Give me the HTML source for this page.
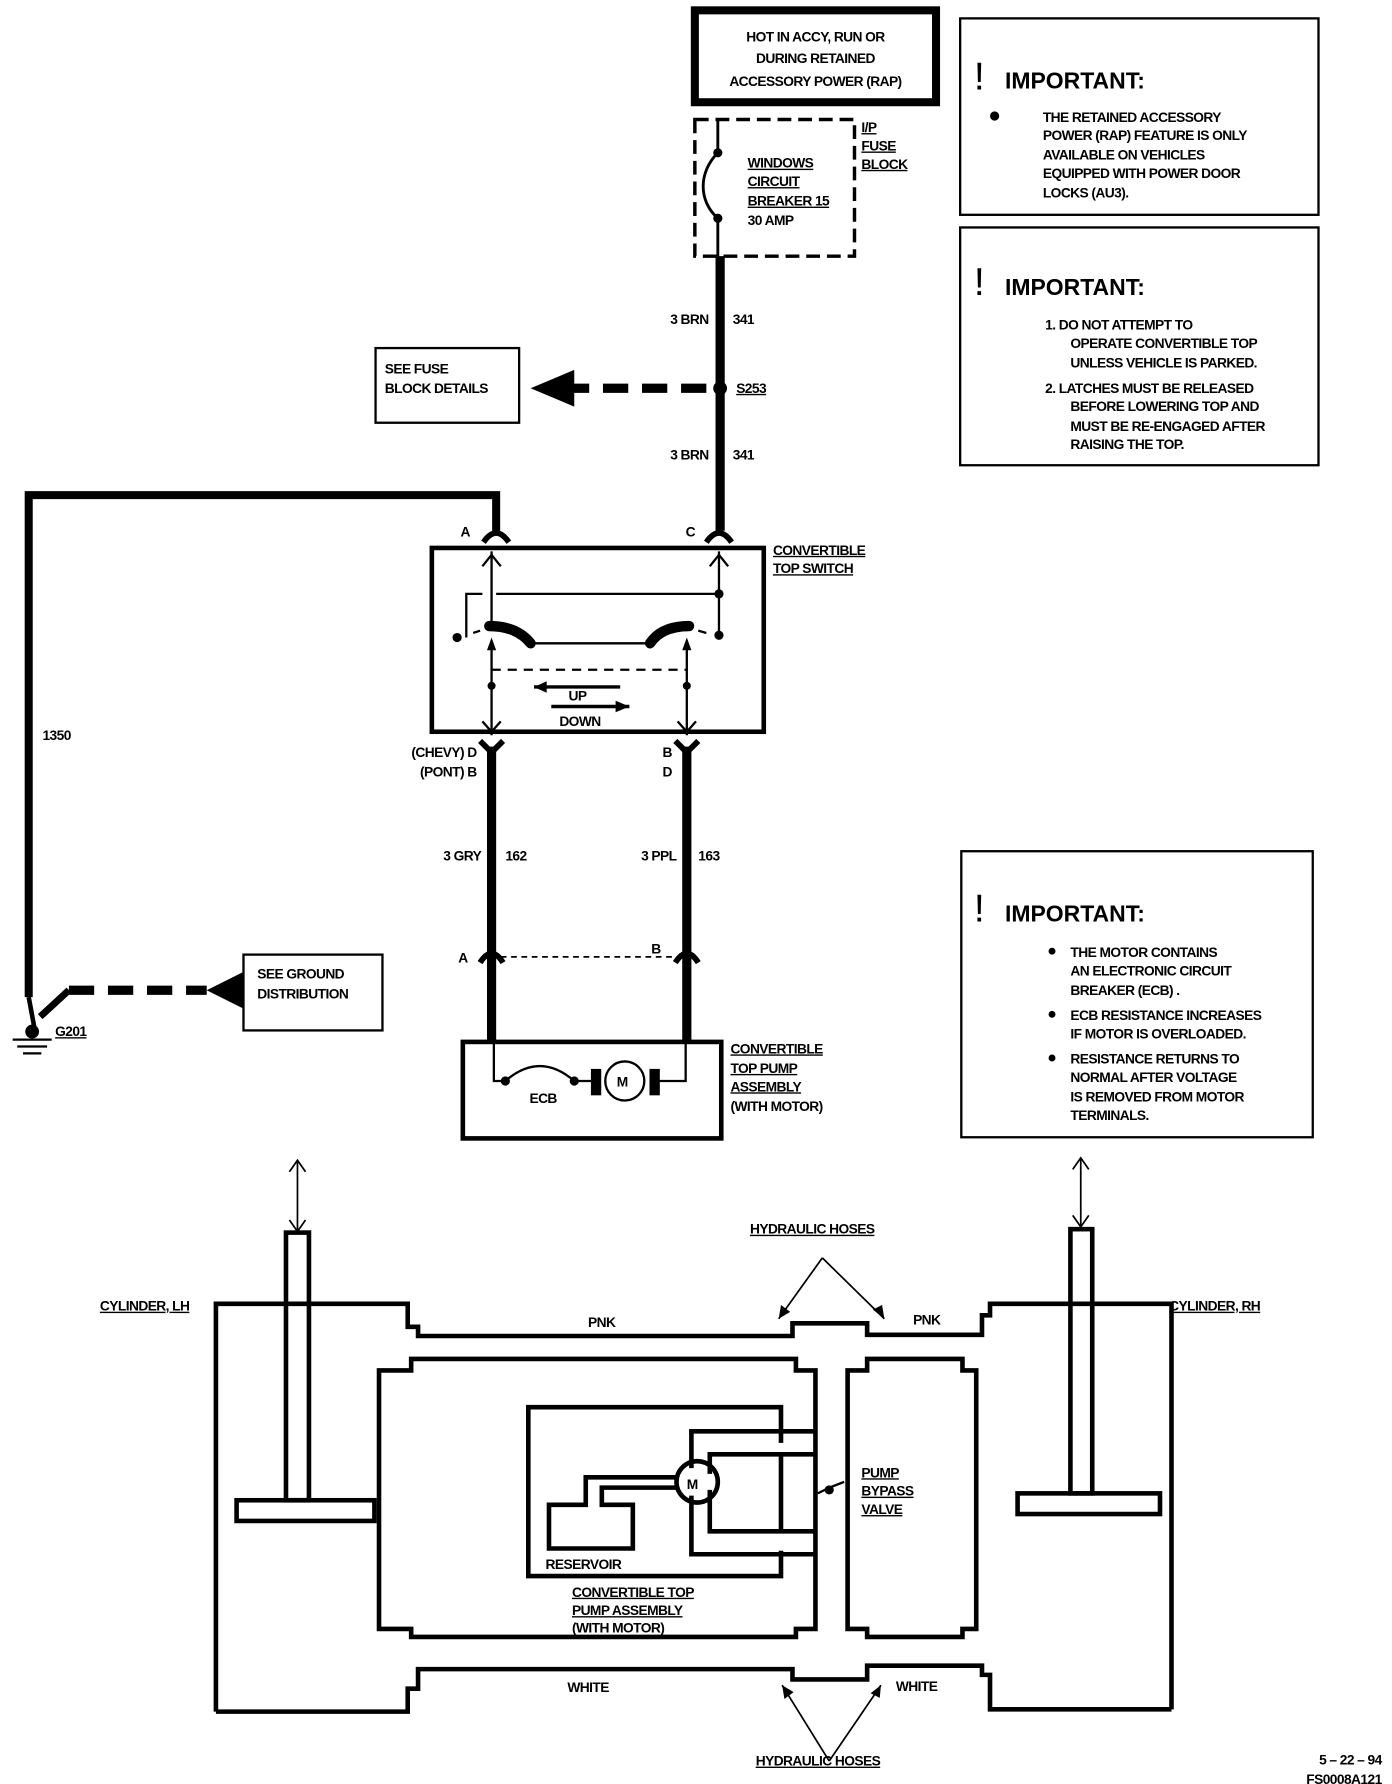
<!DOCTYPE html>
<html><head><meta charset="utf-8"><style>
html,body{margin:0;padding:0;background:#fff;}
svg{display:block;}
text{font-family:"Liberation Sans",sans-serif;font-weight:bold;font-size:12px;fill:#000;letter-spacing:-0.5px;}
.imp{font-size:20px;letter-spacing:0;}
.ex{font-size:34px;font-weight:normal;}
</style></head><body>
<svg width="1392" height="1784" viewBox="0 0 1212 1553" preserveAspectRatio="none" xmlns="http://www.w3.org/2000/svg">
<g fill="none" stroke="#000">
<rect x="605" y="9" width="210" height="80" stroke-width="7"/>
<rect x="605" y="104" width="139" height="119" stroke-width="3" stroke-dasharray="12,6"/>
<path d="M625 133 C608 150 608 175 625 190" stroke-width="2.5"/>
<line x1="625" y1="104" x2="625" y2="133" stroke-width="2.5"/>
<line x1="625" y1="190" x2="625" y2="223" stroke-width="2.5"/>
<line x1="627" y1="223" x2="627" y2="462" stroke-width="8"/>
<line x1="615" y1="338" x2="495" y2="338" stroke-width="8" stroke-dasharray="22,12"/>
<rect x="327" y="303" width="125" height="65" stroke-width="2"/>
<path d="M432 462 V431 H25 V868" stroke-width="7"/>
<path d="M25 868 L30 895" stroke-width="4"/>
<line x1="60" y1="862" x2="180" y2="862" stroke-width="8" stroke-dasharray="22,12"/>
<path d="M60 862 L35 885" stroke-width="6"/>
<rect x="212" y="831" width="121" height="66" stroke-width="2"/>
<line x1="11" y1="905" x2="45" y2="905" stroke-width="2"/>
<line x1="15" y1="911" x2="41" y2="911" stroke-width="2"/>
<line x1="20" y1="917" x2="36" y2="917" stroke-width="2"/>
<path d="M421 472 Q432 456 443 472" stroke-width="5"/>
<path d="M615 472 Q626 456 637 472" stroke-width="5"/>
<rect x="376" y="477" width="289" height="160" stroke-width="4"/>
<line x1="428" y1="480" x2="428" y2="545" stroke-width="2"/>
<path d="M420 493 L428 483 L436 493" stroke-width="2"/>
<line x1="626" y1="480" x2="626" y2="553" stroke-width="2"/>
<path d="M618 493 L626 483 L634 493" stroke-width="2"/>
<path d="M406 555 V517 H420 M432 517 H626" stroke-width="2"/>
<path d="M426 545 Q450 545 462 560" stroke-width="9" stroke-linecap="round"/>
<path d="M600 545 Q576 545 566 560" stroke-width="9" stroke-linecap="round"/>
<line x1="462" y1="560" x2="566" y2="560" stroke-width="2"/>
<path d="M412 551 L418 549 M608 549 L615 551" stroke-width="2"/>
<line x1="428" y1="560" x2="428" y2="640" stroke-width="2"/>
<line x1="598" y1="560" x2="598" y2="640" stroke-width="2"/>
<line x1="428" y1="583" x2="598" y2="583" stroke-width="2" stroke-dasharray="8,6"/>
<path d="M420 628 L428 637 L436 628 M590 628 L598 637 L606 628" stroke-width="2"/>
<line x1="465" y1="598" x2="540" y2="598" stroke-width="3"/>
<line x1="480" y1="615" x2="548" y2="615" stroke-width="3"/>
<path d="M418 645 L428 655 L438 645 M588 645 L598 655 L608 645" stroke-width="5"/>
<line x1="428" y1="650" x2="428" y2="908" stroke-width="8"/>
<line x1="598" y1="650" x2="598" y2="908" stroke-width="8"/>
<path d="M418 838 Q428 822 438 838 M588 838 Q598 822 608 838" stroke-width="5"/>
<line x1="436" y1="833" x2="590" y2="833" stroke-width="1.5" stroke-dasharray="5,4"/>
<rect x="403" y="907" width="225" height="84" stroke-width="4"/>
<path d="M430 908 V941 H440 M597 908 V941 H574" stroke-width="2"/>
<path d="M440 941 Q470 915 500 941" stroke-width="2"/>
<line x1="500" y1="941" x2="515" y2="941" stroke-width="2"/>
<rect x="515" y="931" width="8" height="22" fill="#000"/>
<rect x="566" y="931" width="8" height="22" fill="#000"/>
<circle cx="544" cy="941" r="17" stroke-width="2"/>
<rect x="836" y="16" width="312" height="171" stroke-width="2"/>
<rect x="836" y="198" width="312" height="207" stroke-width="2"/>
<rect x="837" y="741" width="306" height="249" stroke-width="2"/>
<path d="M188 1490 V1135 H355 V1155 H364 V1163 H690 V1152 H755 V1162 H855 V1145 H862 V1135 H1020 V1488" stroke-width="4"/>
<path d="M188 1490 H355 V1470 H364 V1453 H690 V1462 H755 V1450 H855 V1458 H862 V1488 H1020" stroke-width="4"/>
<path d="M330 1193 H358 V1183 H693 V1193 H710 V1418 H693 V1425 H358 V1418 H330 Z" stroke-width="4"/>
<path d="M738 1193 H755 V1183 H838 V1193 H850 V1418 H838 V1425 H755 V1418 H738 Z" stroke-width="4"/>
<rect x="249" y="1073" width="20" height="233" stroke-width="4"/>
<rect x="206" y="1306" width="120" height="18" stroke-width="4"/>
<rect x="932" y="1070" width="19" height="230" stroke-width="4"/>
<rect x="886" y="1300" width="124" height="18" stroke-width="4"/>
<line x1="259" y1="1010" x2="259" y2="1072" stroke-width="1.5"/>
<path d="M252 1020 L259 1010 L266 1020 M252 1062 L259 1072 L266 1062" stroke-width="1.5"/>
<line x1="941" y1="1008" x2="941" y2="1068" stroke-width="1.5"/>
<path d="M934 1018 L941 1008 L948 1018 M934 1058 L941 1068 L948 1058" stroke-width="1.5"/>
<path d="M680 1256 V1225 H460 V1372 H680 V1350" stroke-width="4"/>
<path d="M710 1246 H602 V1278 M602 1302 V1353 H710" stroke-width="4"/>
<path d="M710 1266 H618 V1283 M618 1297 V1333 H710" stroke-width="4"/>
<line x1="680" y1="1266" x2="680" y2="1333" stroke-width="4"/>
<circle cx="607" cy="1290" r="18" stroke-width="4"/>
<path d="M589 1286 H510 V1310 H478 V1348 H551 V1310 H524 V1295 H589" stroke-width="4"/>
<path d="M712 1300 L722 1295 L735 1290" stroke-width="2"/>
<path d="M716 1095 L678 1148 M716 1095 L770 1148" stroke-width="1.5"/>
<path d="M722 1533 L681 1467 M722 1533 L767 1467" stroke-width="1.5"/>
</g>
<g fill="#000">
<polygon points="462,338 500,322 500,354"/>
<polygon points="180,862 212,846 212,878"/>
<circle cx="627" cy="338" r="6"/>
<circle cx="625" cy="133" r="4"/><circle cx="625" cy="190" r="4"/>
<circle cx="28" cy="898" r="6"/>
<circle cx="398" cy="555" r="4"/><circle cx="626" cy="517" r="4"/><circle cx="626" cy="553" r="4"/>
<circle cx="428" cy="597" r="3.5"/><circle cx="598" cy="597" r="3.5"/>
<circle cx="440" cy="941" r="4"/><circle cx="500" cy="941" r="4"/>
<circle cx="722" cy="1297" r="4"/>
<polygon points="465,598 476,593 476,603"/><polygon points="548,615 536,610 536,620"/>
<polygon points="428,555 424,566 432,566"/><polygon points="598,555 594,566 602,566"/>
<polygon points="678,1148 680,1136 688,1142"/><polygon points="770,1148 760,1140 768,1136"/>
<polygon points="681,1467 683,1479 691,1473"/><polygon points="767,1467 758,1474 766,1478"/>
<circle cx="866" cy="101" r="4"/>
<circle cx="916" cy="828" r="3"/><circle cx="916" cy="883" r="3"/><circle cx="916" cy="921" r="3"/>
</g>
<g>
<text x="710" y="36" text-anchor="middle">HOT IN ACCY, RUN OR</text>
<text x="710" y="55" text-anchor="middle">DURING RETAINED</text>
<text x="710" y="75" text-anchor="middle">ACCESSORY POWER (RAP)</text>
<text x="750" y="115" text-decoration="underline">I/P</text>
<text x="750" y="131" text-decoration="underline">FUSE</text>
<text x="750" y="147" text-decoration="underline">BLOCK</text>
<text x="651" y="146" text-decoration="underline">WINDOWS</text>
<text x="651" y="162" text-decoration="underline">CIRCUIT</text>
<text x="651" y="179" text-decoration="underline">BREAKER  15</text>
<text x="651" y="196">30 AMP</text>
<text x="617" y="282" text-anchor="end">3 BRN</text><text x="638" y="282">341</text>
<text x="641" y="342" text-decoration="underline">S253</text>
<text x="335" y="325">SEE FUSE</text><text x="335" y="342">BLOCK DETAILS</text>
<text x="617" y="400" text-anchor="end">3 BRN</text><text x="638" y="400">341</text>
<text x="401" y="467">A</text><text x="597" y="467">C</text>
<text x="673" y="483" text-decoration="underline">CONVERTIBLE</text>
<text x="673" y="499" text-decoration="underline">TOP SWITCH</text>
<text x="495" y="610">UP</text><text x="487" y="632">DOWN</text>
<text x="415" y="659" text-anchor="end">(CHEVY)  D</text>
<text x="415" y="676" text-anchor="end">(PONT)  B</text>
<text x="585" y="659" text-anchor="end">B</text><text x="585" y="676" text-anchor="end">D</text>
<text x="37" y="644">1350</text>
<text x="419" y="749" text-anchor="end">3 GRY</text><text x="440" y="749">162</text>
<text x="589" y="749" text-anchor="end">3 PPL</text><text x="608" y="749">163</text>
<text x="399" y="838">A</text><text x="567" y="830">B</text>
<text x="224" y="852">SEE GROUND</text><text x="224" y="869">DISTRIBUTION</text>
<text x="48" y="902" text-decoration="underline">G201</text>
<text x="461" y="960">ECB</text>
<text x="537" y="946" font-size="15">M</text>
<text x="636" y="917" text-decoration="underline">CONVERTIBLE</text>
<text x="636" y="934" text-decoration="underline">TOP PUMP</text>
<text x="636" y="950" text-decoration="underline">ASSEMBLY</text>
<text x="636" y="967">(WITH MOTOR)</text>
<text x="848" y="78" class="ex">!</text><text x="875" y="77" class="imp">IMPORTANT:</text>
<text x="908" y="106">THE RETAINED ACCESSORY</text>
<text x="908" y="122">POWER (RAP) FEATURE IS ONLY</text>
<text x="908" y="139">AVAILABLE ON VEHICLES</text>
<text x="908" y="155">EQUIPPED WITH POWER DOOR</text>
<text x="908" y="172">LOCKS (AU3).</text>
<text x="848" y="257" class="ex">!</text><text x="875" y="257" class="imp">IMPORTANT:</text>
<text x="910" y="287">1.  DO NOT ATTEMPT TO</text>
<text x="932" y="303">OPERATE CONVERTIBLE TOP</text>
<text x="932" y="320">UNLESS VEHICLE IS PARKED.</text>
<text x="910" y="342">2.  LATCHES MUST BE RELEASED</text>
<text x="932" y="358">BEFORE LOWERING TOP AND</text>
<text x="932" y="375">MUST BE RE-ENGAGED AFTER</text>
<text x="932" y="391">RAISING THE TOP.</text>
<text x="848" y="802" class="ex">!</text><text x="875" y="802" class="imp">IMPORTANT:</text>
<text x="932" y="833">THE MOTOR CONTAINS</text>
<text x="932" y="849">AN ELECTRONIC CIRCUIT</text>
<text x="932" y="866">BREAKER (ECB) .</text>
<text x="932" y="888">ECB RESISTANCE INCREASES</text>
<text x="932" y="904">IF MOTOR IS OVERLOADED.</text>
<text x="932" y="926">RESISTANCE RETURNS TO</text>
<text x="932" y="942">NORMAL AFTER VOLTAGE</text>
<text x="932" y="959">IS REMOVED FROM MOTOR</text>
<text x="932" y="975">TERMINALS.</text>
<text x="653" y="1074" text-decoration="underline">HYDRAULIC HOSES</text>
<text x="87" y="1141" text-decoration="underline">CYLINDER, LH</text>
<text x="1018" y="1141" text-decoration="underline">CYLINDER, RH</text>
<text x="512" y="1155">PNK</text><text x="795" y="1153">PNK</text>
<text x="598" y="1296" font-size="15">M</text>
<text x="750" y="1286" text-decoration="underline">PUMP</text>
<text x="750" y="1302" text-decoration="underline">BYPASS</text>
<text x="750" y="1318" text-decoration="underline">VALVE</text>
<text x="475" y="1366">RESERVOIR</text>
<text x="498" y="1390" text-decoration="underline">CONVERTIBLE TOP</text>
<text x="498" y="1406" text-decoration="underline">PUMP ASSEMBLY</text>
<text x="498" y="1421">(WITH MOTOR)</text>
<text x="494" y="1473">WHITE</text><text x="780" y="1472">WHITE</text>
<text x="658" y="1537" text-decoration="underline">HYDRAULIC HOSES</text>
<text x="1203" y="1536" text-anchor="end" font-size="13">5 – 22 – 94</text>
<text x="1203" y="1553" text-anchor="end" font-size="13">FS0008A121</text>
</g>
</svg>
</body></html>
